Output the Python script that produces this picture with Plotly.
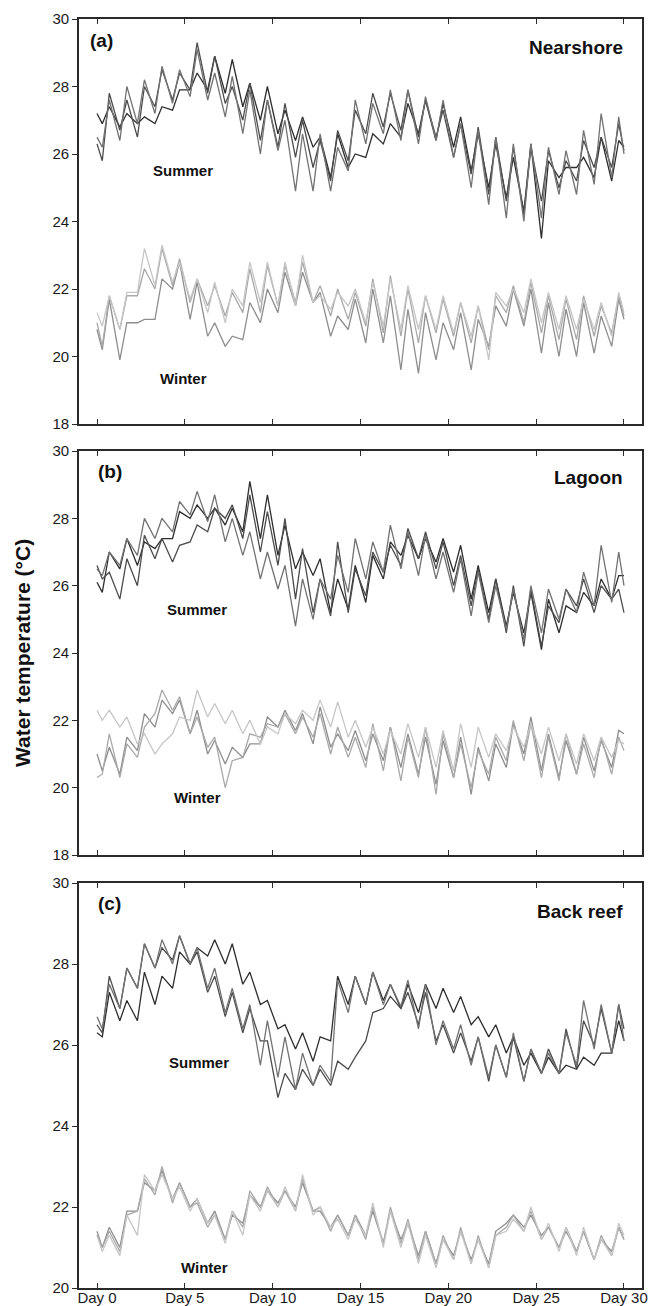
import plotly.graph_objects as go

# ---- time grid (days): start, then nightly low / afternoon high each day, end
days = [0.0] + [v for k in range(30) for v in (k + 0.3, k + 0.7)] + [30.0]

tick_days = [0, 5, 10, 15, 20, 25, 30]
tick_labels = ["Day 0", "Day 5", "Day 10", "Day 15", "Day 20", "Day 25", "Day 30"]

# ---------------- (a) Nearshore ----------------
near_summer_1 = [27.2, 26.9, 27.4, 26.8, 27.2, 26.9, 27.1, 26.9, 27.4, 27.3, 27.9, 27.9, 28.4, 27.9, 28.9,
                 27.8, 28.8, 27.4, 28.1, 27.0, 28.0, 26.6, 27.3, 26.4, 27.1, 26.2, 26.5, 25.3, 26.6, 25.6, 26.0,
                 25.9, 26.6, 26.3, 26.9, 26.5, 27.5, 26.6, 27.6, 26.4, 27.5, 26.2, 27.1, 25.5, 26.6, 25.0, 26.3,
                 24.7, 25.9, 24.3, 26.3, 23.5, 25.8, 25.3, 25.6, 25.6, 25.9, 25.3, 26.5, 25.2, 26.4, 26.2]
near_summer_2 = [26.3, 25.8, 27.8, 26.7, 27.6, 26.5, 28.0, 27.4, 28.5, 27.6, 28.4, 27.9, 29.3, 27.8, 28.9,
                 27.5, 28.0, 27.0, 28.1, 26.4, 27.6, 26.2, 27.5, 25.9, 27.0, 25.6, 26.4, 25.2, 26.7, 25.8, 27.3,
                 26.6, 27.8, 26.8, 27.8, 26.7, 27.9, 26.5, 27.6, 26.5, 27.3, 25.9, 26.9, 25.4, 26.8, 24.8, 26.5,
                 24.6, 26.2, 24.2, 26.2, 24.6, 26.1, 25.0, 25.8, 25.2, 26.4, 25.6, 26.5, 25.6, 26.9, 26.1]
near_summer_3 = [26.5, 26.2, 27.6, 26.4, 28.0, 26.9, 28.2, 27.2, 28.6, 27.5, 28.5, 27.7, 29.1, 27.6, 28.4,
                 27.1, 28.3, 26.6, 27.9, 26.0, 27.6, 26.1, 27.0, 24.9, 26.6, 24.9, 26.6, 24.9, 26.2, 25.5, 27.6,
                 26.3, 27.5, 26.6, 27.9, 26.4, 27.9, 26.3, 27.7, 26.4, 27.6, 25.9, 26.9, 25.0, 26.7, 24.5, 26.5,
                 24.1, 26.3, 24.0, 26.3, 24.1, 26.2, 24.8, 26.1, 24.8, 26.7, 25.1, 27.2, 25.3, 27.1, 26.0]
near_winter_1 = [20.8, 20.2, 21.7, 19.9, 21.0, 21.0, 21.1, 21.1, 22.3, 22.0, 22.8, 21.1, 22.2, 20.6, 21.0,
                 20.3, 20.6, 20.5, 21.6, 21.0, 22.0, 21.3, 22.5, 21.5, 22.5, 21.6, 21.9, 20.6, 21.2, 20.8, 21.7,
                 20.4, 22.0, 20.4, 21.8, 19.6, 21.4, 19.5, 21.3, 19.9, 21.0, 20.2, 21.3, 19.6, 21.1, 20.3, 21.5,
                 20.9, 22.0, 20.9, 22.0, 20.1, 21.6, 20.0, 21.4, 20.0, 21.6, 20.1, 21.2, 20.3, 21.7, 21.1]
near_winter_2 = [21.0, 20.3, 21.8, 20.8, 21.8, 21.8, 22.6, 22.0, 23.2, 22.1, 22.9, 21.6, 22.3, 21.5, 22.1,
                 21.2, 21.9, 21.3, 22.6, 21.3, 22.7, 21.5, 22.7, 21.6, 22.8, 21.6, 22.1, 21.2, 22.0, 21.1, 21.9,
                 20.9, 22.3, 20.7, 22.4, 20.6, 22.0, 20.4, 21.8, 20.7, 21.7, 20.6, 21.6, 20.4, 21.5, 20.2, 21.8,
                 21.3, 22.1, 21.0, 22.2, 20.7, 21.8, 20.5, 21.7, 20.5, 21.8, 20.6, 21.5, 20.7, 21.8, 21.2]
near_winter_3 = [21.3, 20.9, 21.8, 20.8, 21.9, 21.9, 23.2, 22.1, 23.3, 22.2, 22.8, 21.7, 22.3, 21.3, 22.2,
                 21.0, 22.0, 21.5, 22.8, 21.6, 22.8, 21.5, 22.8, 21.5, 23.0, 21.6, 21.8, 21.4, 21.9, 21.5, 22.0,
                 21.0, 22.2, 20.9, 22.3, 20.8, 22.1, 20.8, 21.8, 20.8, 21.8, 20.7, 21.6, 20.6, 21.5, 19.9, 21.9,
                 21.5, 22.0, 21.3, 22.3, 21.0, 21.9, 20.8, 21.8, 20.8, 21.7, 20.8, 21.6, 20.6, 21.9, 21.3]

# ---------------- (b) Lagoon ----------------
lag_summer_1 = [26.1, 25.8, 27.0, 26.5, 27.4, 26.6, 27.3, 27.1, 27.4, 27.4, 28.2, 28.0, 28.4, 28.0, 28.3,
                27.8, 28.3, 27.6, 29.1, 27.4, 28.7, 26.9, 27.8, 26.5, 27.0, 26.3, 26.8, 25.2, 26.2, 25.3, 26.6,
                25.5, 26.9, 26.2, 27.3, 26.9, 27.5, 26.8, 27.4, 26.7, 27.4, 26.4, 27.2, 25.6, 26.6, 25.2, 26.2,
                24.8, 25.8, 24.6, 25.8, 24.1, 25.6, 24.6, 25.4, 25.2, 25.8, 25.4, 26.2, 25.6, 26.3, 26.3]
lag_summer_2 = [26.6, 26.2, 26.4, 25.6, 26.8, 26.0, 27.5, 26.8, 27.4, 26.7, 27.2, 27.3, 27.8, 27.6, 28.3,
                28.0, 28.4, 27.4, 28.7, 27.0, 28.2, 26.6, 28.0, 25.6, 27.1, 25.2, 26.2, 25.1, 27.3, 25.2, 26.5,
                25.7, 27.0, 26.4, 27.2, 26.6, 27.7, 26.8, 27.6, 26.5, 27.3, 26.0, 26.9, 25.4, 26.5, 25.0, 26.2,
                24.6, 26.0, 24.2, 25.9, 24.2, 25.4, 24.9, 25.9, 25.4, 26.2, 25.2, 26.0, 25.6, 25.9, 25.2]
lag_summer_3 = [26.5, 26.3, 27.0, 26.6, 27.4, 26.9, 28.0, 27.4, 28.0, 27.6, 28.5, 28.1, 28.8, 27.9, 28.7,
                27.3, 28.0, 26.9, 27.6, 26.2, 27.0, 25.9, 26.6, 24.8, 26.2, 25.0, 26.2, 25.6, 26.9, 25.8, 27.4,
                26.2, 27.3, 26.4, 27.8, 26.5, 27.6, 26.3, 27.5, 26.2, 27.0, 25.8, 26.8, 25.1, 26.4, 24.9, 26.0,
                24.7, 25.9, 24.4, 26.0, 24.6, 25.9, 25.0, 25.9, 25.2, 26.4, 25.4, 27.2, 25.5, 27.0, 26.0]
lag_winter_1 = [21.0, 20.5, 21.2, 20.4, 21.5, 21.1, 22.2, 21.8, 22.6, 22.2, 22.6, 21.6, 22.3, 21.0, 21.4,
                20.7, 21.2, 20.9, 21.3, 21.3, 22.1, 21.8, 22.3, 21.7, 22.2, 21.3, 22.4, 21.2, 21.6, 21.1, 21.7,
                20.8, 21.6, 20.8, 21.8, 20.6, 21.6, 20.4, 21.5, 20.1, 21.4, 20.3, 21.5, 19.8, 21.2, 20.2, 21.3,
                20.6, 21.9, 21.0, 22.1, 20.5, 21.6, 20.3, 21.4, 20.4, 21.5, 20.5, 21.4, 20.6, 21.7, 21.6]
lag_winter_2 = [20.3, 20.4, 21.6, 20.3, 21.3, 20.9, 21.8, 22.2, 22.9, 22.3, 22.7, 21.6, 22.1, 21.2, 21.5,
                20.0, 20.8, 20.9, 21.6, 21.5, 21.9, 21.8, 22.2, 21.6, 22.1, 21.5, 22.2, 21.0, 21.8, 20.9, 21.5,
                20.6, 21.9, 20.5, 21.8, 20.2, 21.5, 20.3, 21.8, 19.8, 21.6, 20.3, 21.3, 20.0, 21.1, 20.4, 21.5,
                20.8, 22.0, 20.8, 21.9, 20.3, 21.5, 20.2, 21.6, 20.4, 21.3, 20.3, 21.5, 20.4, 21.5, 21.1]
lag_winter_3 = [22.3, 22.0, 22.3, 21.8, 22.1, 21.3, 21.6, 21.0, 21.3, 21.6, 22.1, 22.0, 22.9, 22.1, 22.5,
                21.9, 22.3, 21.6, 22.0, 21.3, 21.8, 21.6, 22.2, 21.9, 22.3, 22.0, 22.6, 21.8, 22.55, 21.5, 22.0,
                21.2, 21.8, 21.0, 21.7, 21.0, 21.9, 20.9, 21.8, 20.6, 21.7, 20.5, 21.9, 20.6, 21.8, 20.9, 21.6,
                21.1, 21.8, 21.2, 21.9, 21.0, 21.8, 20.8, 21.6, 20.7, 21.6, 20.8, 21.5, 20.9, 21.4, 21.3]

# ---------------- (c) Back reef ----------------
back_summer_1 = [26.3, 26.2, 27.3, 26.6, 27.1, 26.6, 27.8, 27.0, 27.7, 27.4, 28.3, 28.0, 28.4, 28.2, 28.6,
                 28.0, 28.5, 27.5, 27.8, 27.0, 27.1, 26.4, 26.5, 25.9, 26.3, 25.6, 26.2, 26.1, 27.7, 27.0, 27.7,
                 27.0, 27.8, 27.1, 27.5, 26.9, 27.5, 26.8, 27.5, 26.9, 27.4, 26.8, 27.2, 26.5, 26.7, 26.2, 26.5,
                 25.8, 26.2, 25.5, 25.8, 25.3, 25.7, 25.3, 25.5, 25.4, 25.7, 25.5, 25.8, 25.8, 26.6, 26.1]
back_summer_2 = [26.5, 26.3, 27.7, 26.9, 27.9, 27.4, 28.5, 27.9, 28.4, 28.1, 28.7, 28.0, 28.3, 27.3, 27.7,
                 26.7, 27.3, 26.3, 26.9, 26.1, 26.1, 24.7, 25.3, 24.9, 25.4, 25.0, 25.4, 25.0, 25.6, 25.4, 25.7,
                 26.1, 26.8, 26.9, 27.2, 26.9, 27.3, 26.5, 27.3, 26.1, 26.5, 25.8, 26.3, 25.6, 26.2, 25.1, 26.0,
                 25.2, 26.2, 25.1, 25.9, 25.3, 25.9, 25.3, 26.4, 25.4, 26.6, 26.0, 26.9, 25.8, 27.0, 26.4]
back_summer_3 = [26.7, 26.4, 27.5, 26.9, 27.9, 27.4, 28.5, 27.9, 28.6, 28.0, 28.7, 28.0, 28.4, 27.4, 27.9,
                 26.8, 27.4, 26.4, 27.0, 25.5, 26.6, 25.2, 26.2, 24.9, 25.8, 25.0, 25.5, 25.1, 27.6, 26.8, 27.7,
                 27.0, 27.8, 27.0, 27.5, 26.95, 27.6, 26.4, 27.5, 26.0, 26.6, 25.9, 26.5, 25.5, 26.2, 25.2, 26.0,
                 25.2, 26.3, 25.1, 25.9, 25.3, 25.8, 25.3, 26.3, 25.5, 27.1, 25.9, 27.0, 25.8, 27.0, 26.1]
back_winter_1 = [21.4, 21.0, 21.5, 21.0, 21.9, 21.9, 22.6, 22.4, 22.9, 22.2, 22.6, 22.0, 22.2, 21.6, 21.9,
                 21.2, 21.8, 21.6, 22.3, 22.0, 22.4, 22.1, 22.4, 22.0, 22.6, 21.9, 21.9, 21.5, 21.8, 21.3, 21.8,
                 21.3, 21.9, 21.1, 21.9, 21.2, 21.6, 20.8, 21.4, 20.6, 21.2, 20.8, 21.4, 20.7, 21.2, 20.6, 21.4,
                 21.6, 21.8, 21.5, 21.8, 21.3, 21.5, 21.0, 21.4, 20.9, 21.4, 20.7, 21.2, 20.9, 21.5, 21.2]
back_winter_2 = [21.3, 21.0, 21.4, 20.9, 21.8, 21.9, 22.7, 22.3, 23.0, 22.1, 22.6, 22.0, 22.1, 21.5, 21.8,
                 21.2, 21.9, 21.5, 22.4, 22.0, 22.5, 22.0, 22.4, 21.9, 22.7, 21.9, 22.0, 21.4, 21.8, 21.3, 21.8,
                 21.2, 22.0, 21.1, 22.0, 21.1, 21.7, 20.7, 21.4, 20.6, 21.3, 20.7, 21.5, 20.6, 21.3, 20.5, 21.3,
                 21.5, 21.8, 21.4, 21.9, 21.2, 21.5, 21.0, 21.5, 20.9, 21.4, 20.7, 21.3, 20.8, 21.5, 21.2]
back_winter_3 = [21.3, 20.9, 21.3, 20.8, 21.8, 21.3, 22.8, 22.4, 22.8, 22.2, 22.5, 21.9, 22.2, 21.6, 21.8,
                 21.1, 21.9, 21.3, 22.3, 21.9, 22.4, 22.0, 22.5, 21.9, 22.8, 21.8, 22.0, 21.5, 21.7, 21.2, 21.7,
                 21.3, 22.1, 21.0, 21.9, 21.0, 21.6, 20.6, 21.3, 20.5, 21.2, 20.7, 21.4, 20.6, 21.2, 20.5, 21.3,
                 21.4, 21.7, 21.4, 22.0, 21.2, 21.6, 20.9, 21.5, 20.8, 21.5, 20.7, 21.2, 20.8, 21.6, 21.3]

panels = [
    ("(a)", "Nearshore", [18, 30],
     [near_summer_1, near_summer_2, near_summer_3],
     [near_winter_1, near_winter_2, near_winter_3]),
    ("(b)", "Lagoon", [18, 30],
     [lag_summer_1, lag_summer_2, lag_summer_3],
     [lag_winter_1, lag_winter_2, lag_winter_3]),
    ("(c)", "Back reef", [20, 30],
     [back_summer_1, back_summer_2, back_summer_3],
     [back_winter_1, back_winter_2, back_winter_3]),
]

summer_colors = ["#2e2e2e", "#4c4c4c", "#727272"]
winter_colors = ["#8e8e8e", "#a9a9a9", "#c6c6c6"]

# label positions (data coords) for season labels
summer_label_pos = [(4.9, 25.5), (5.7, 25.3), (5.8, 25.58)]
winter_label_pos = [(4.9, 19.36), (5.7, 19.7), (6.1, 20.5)]

H = 1306
W = 666
x_dom = [79 / W, 642 / W]
y_doms = [
    [1 - 424 / H, 1 - 19 / H],
    [1 - 855 / H, 1 - 451 / H],
    [1 - 1288 / H, 1 - 883 / H],
]

FONT = "Arial, 'Liberation Sans', Helvetica, sans-serif"
AX = "#2a2a2a"

fig = go.Figure()
annotations = []
for i, (tag, site, yr, summers, winters) in enumerate(panels):
    n = "" if i == 0 else str(i + 1)
    xa, ya = "x" + n, "y" + n
    for s, c in zip(winters, winter_colors):
        assert len(s) == len(days)
        fig.add_trace(go.Scatter(x=days, y=s, mode="lines", xaxis=xa, yaxis=ya,
                                 line=dict(color=c, width=1.3), showlegend=False, hoverinfo="skip"))
    for s, c in zip(summers, summer_colors):
        assert len(s) == len(days)
        fig.add_trace(go.Scatter(x=days, y=s, mode="lines", xaxis=xa, yaxis=ya,
                                 line=dict(color=c, width=1.3), showlegend=False, hoverinfo="skip"))
    fig.layout["xaxis" + n] = dict(
        domain=x_dom, anchor=ya, range=[-1.025, 31.025], automargin=False,
        tickmode="array", tickvals=tick_days, ticktext=tick_labels,
        showticklabels=(i == 2), ticks="inside", ticklen=5, tickwidth=1, tickcolor=AX,
        ticklabelstandoff=-5,
        showline=True, linewidth=1.6, linecolor=AX, mirror="ticks",
        showgrid=False, zeroline=False,
        tickfont=dict(family=FONT, size=15, color="#1a1a1a"),
    )
    fig.layout["yaxis" + n] = dict(
        domain=y_doms[i], anchor=xa, range=yr, dtick=2, tick0=0, automargin=False,
        ticks="outside", ticklen=5, tickwidth=1, tickcolor=AX,
        showline=True, linewidth=1.6, linecolor=AX, mirror=True,
        showgrid=False, zeroline=False,
        tickfont=dict(family=FONT, size=15, color="#1a1a1a"),
    )
    dx = "x" + n + " domain"
    dy = "y" + n + " domain"
    annotations.append(dict(xref=dx, yref=dy, x=0.016 if i == 0 else 0.03, y=0.95 if i else 0.948,
                            text="<b>" + tag + "</b>", showarrow=False, xanchor="left", yanchor="middle",
                            font=dict(family=FONT, size=19, color="#111")))
    annotations.append(dict(xref=dx, yref=dy, x=0.97, y=0.93 if i == 0 else (0.935 if i == 1 else 0.93),
                            text="<b>" + site + "</b>", showarrow=False, xanchor="right", yanchor="middle",
                            font=dict(family=FONT, size=19, color="#111")))
    sx, sy = summer_label_pos[i]
    annotations.append(dict(xref=xa, yref=ya, x=sx, y=sy, text="<b>Summer</b>", showarrow=False,
                            font=dict(family=FONT, size=15, color="#111")))
    wx, wy = winter_label_pos[i]
    annotations.append(dict(xref=xa, yref=ya, x=wx, y=wy, text="<b>Winter</b>", showarrow=False,
                            font=dict(family=FONT, size=15, color="#111")))

annotations.append(dict(xref="paper", yref="paper", x=22 / W, y=0.5, text="<b>Water temperature (°C)</b>",
                        textangle=-90, showarrow=False, xanchor="center", yanchor="middle",
                        font=dict(family=FONT, size=21, color="#111")))

fig.update_layout(
    width=W, height=H,
    margin=dict(l=0, r=0, t=0, b=0, autoexpand=False),
    paper_bgcolor="white", plot_bgcolor="white",
    annotations=annotations,
    font=dict(family=FONT),
)

fig.write_html("out.html")
